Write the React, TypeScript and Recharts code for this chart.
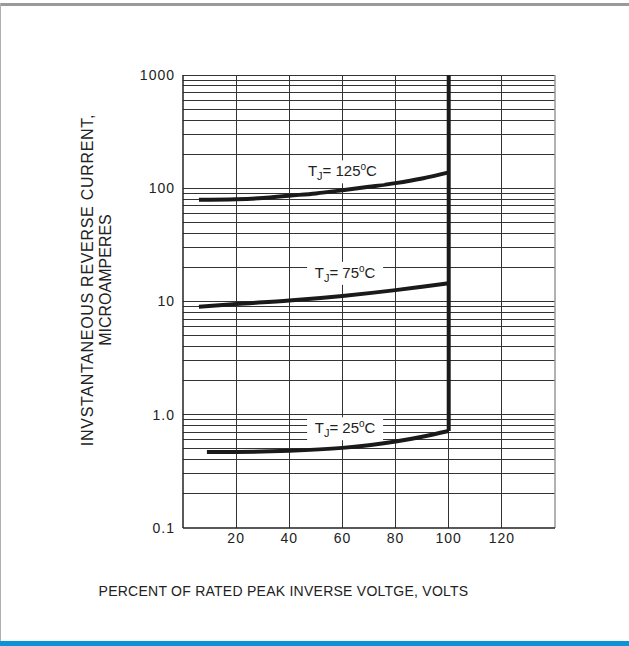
import React from 'react';
import {
  LineChart,
  Line,
  XAxis,
  YAxis,
  ReferenceLine,
  ReferenceDot,
} from 'recharts';

// curves
const x125 = [6, 20, 30, 40, 50, 60, 70, 80, 90, 100];
const y125 = [79, 80, 82, 86, 90, 96, 103, 111, 122, 138];

const x75 = [6, 20, 40, 60, 80, 90, 100];
const y75 = [9.0, 9.5, 10.2, 11.2, 12.6, 13.5, 14.5];

const x25 = [9, 20, 40, 60, 80, 90, 100];
const y25 = [0.47, 0.47, 0.48, 0.51, 0.58, 0.64, 0.72];

// breakdown edge at 100 %
const breakX = [100, 100];
const breakY = [0.72, 1000];

const xTicks = [20, 40, 60, 80, 100, 120];
const yTicks = [0.1, 1, 10, 100, 1000];
const yTickLabels = ['0.1', '1.0', '10', '100', '1000'];
const vGrid = [20, 40, 60, 80, 100, 120];
const hGrid = [
  0.2, 0.3, 0.4, 0.5, 0.6, 0.7, 0.8, 0.9, 1,
  2, 3, 4, 5, 6, 7, 8, 9, 10,
  20, 30, 40, 50, 60, 70, 80, 90, 100,
  200, 300, 400, 500, 600, 700, 800, 900, 1000,
];

const labelX = [60, 61, 61];
const labelY = [141, 17.9, 0.76];
const labelTemp = ['125', '75', '25'];

const zip = (xs: number[], ys: number[]) => xs.map((x, i) => ({ x, y: ys[i] }));

const FONT = '"Liberation Sans", Arial, sans-serif';

const TempLabel = (props: any) => {
  const { cx, cy, temp } = props;
  const w = temp.length === 3 ? 84 : 76;
  return (
    <g>
      <rect x={cx - w / 2} y={cy - 11} width={w} height={23} fill="#fff" />
      <text x={cx} y={cy + 5} textAnchor="middle" fontFamily={FONT} fontSize={15} fill="#222">
        <tspan>T</tspan>
        <tspan dy={4} fontSize={11}>J</tspan>
        <tspan dy={-4}>{`= ${temp}`}</tspan>
        <tspan dy={-6} fontSize={10}>o</tspan>
        <tspan dy={6}>C</tspan>
      </text>
    </g>
  );
};

const App = () => {
  return (
    <div style={{ position: 'absolute', left: 0, top: 0, width: 629, height: 646, background: '#fff', overflow: 'hidden' }}>
      <div style={{ position: 'absolute', left: 0, top: 3, width: 629, height: 3, background: '#9a9a9a' }} />
      <div style={{ position: 'absolute', left: 0, top: 3, width: 1, height: 640, background: '#b0b0b0' }} />
      <div style={{ position: 'absolute', left: 0, top: 641, width: 629, height: 5, background: '#0a93d6' }} />

      <div style={{ position: 'absolute', left: 0, top: 0 }}>
        <LineChart width={629} height={646} margin={{ top: 75, right: 74, left: 123, bottom: 88 }}>
          <XAxis
            dataKey="x"
            type="number"
            domain={[0, 140]}
            ticks={xTicks}
            allowDuplicatedCategory={false}
            height={30}
            tickLine={false}
            tickSize={0}
            tickMargin={5}
            axisLine={{ stroke: '#222', strokeWidth: 1.5 }}
            tick={{ fill: '#222', fontSize: 14, fontFamily: FONT, letterSpacing: 1 }}
          />
          <YAxis
            dataKey="y"
            type="number"
            scale="log"
            domain={[0.1, 1000]}
            ticks={yTicks}
            allowDataOverflow
            width={60}
            tickLine={false}
            tickSize={0}
            tickMargin={8}
            tickFormatter={(v: number) => yTickLabels[yTicks.indexOf(v)] ?? String(v)}
            axisLine={{ stroke: '#222', strokeWidth: 1.5 }}
            tick={{ fill: '#222', fontSize: 14, fontFamily: FONT, letterSpacing: 1 }}
          />

          {hGrid.map((v) => (
            <ReferenceLine key={`h-${v}`} y={v} stroke="#333" strokeWidth={1} shapeRendering="crispEdges" />
          ))}
          {vGrid.map((v) => (
            <ReferenceLine key={`v-${v}`} x={v} stroke="#333" strokeWidth={1} shapeRendering="crispEdges" />
          ))}
          <ReferenceLine x={140} stroke="#999" strokeWidth={1.5} />

          <Line data={zip(x125, y125)} dataKey="y" type="monotone" stroke="#1a1a1a" strokeWidth={4} dot={false} activeDot={false} isAnimationActive={false} />
          <Line data={zip(x75, y75)} dataKey="y" type="monotone" stroke="#1a1a1a" strokeWidth={4} dot={false} activeDot={false} isAnimationActive={false} />
          <Line data={zip(x25, y25)} dataKey="y" type="monotone" stroke="#1a1a1a" strokeWidth={4} dot={false} activeDot={false} isAnimationActive={false} />
          <Line data={zip(breakX, breakY)} dataKey="y" type="linear" stroke="#1a1a1a" strokeWidth={4} dot={false} activeDot={false} isAnimationActive={false} />

          {labelTemp.map((t, i) => (
            <ReferenceDot
              key={`lbl-${t}`}
              x={labelX[i]}
              y={labelY[i]}
              r={0}
              shape={(p: any) => <TempLabel {...p} temp={t} />}
            />
          ))}
        </LineChart>
      </div>

      <div style={{ position: 'absolute', left: 97, top: 280, width: 0, height: 0 }}>
        <div
          style={{
            position: 'absolute',
            left: 0,
            top: 0,
            transform: 'translate(-50%, -50%) rotate(-90deg)',
            whiteSpace: 'nowrap',
            textAlign: 'center',
            fontFamily: FONT,
            fontSize: 16,
            lineHeight: '18px',
            color: '#222',
          }}
        >
          <div style={{ letterSpacing: 0.7 }}>INVSTANTANEOUS REVERSE CURRENT,</div>
          <div>MICROAMPERES</div>
        </div>
      </div>

      <div
        style={{
          position: 'absolute',
          left: 0,
          top: 583,
          width: 567,
          textAlign: 'center',
          fontFamily: FONT,
          fontSize: 14,
          letterSpacing: 0.25,
          color: '#222',
        }}
      >
        PERCENT OF RATED PEAK INVERSE VOLTGE, VOLTS
      </div>
    </div>
  );
};

export default App;
